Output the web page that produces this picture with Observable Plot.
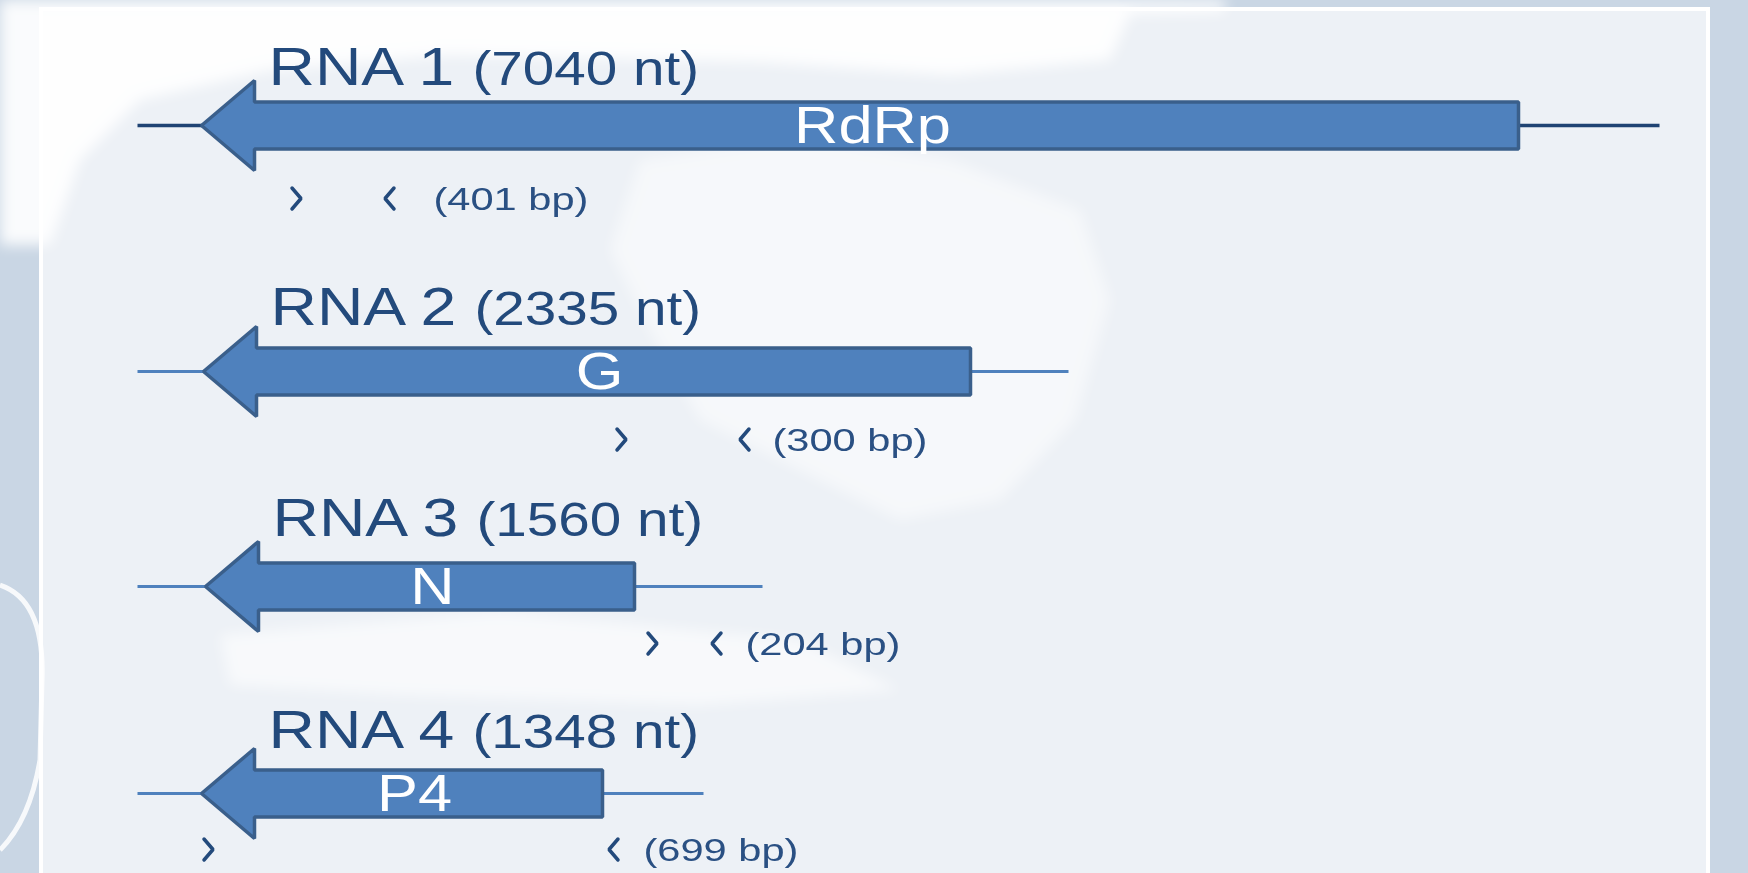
<!DOCTYPE html>
<html><head><meta charset="utf-8">
<script src="https://cdn.jsdelivr.net/npm/d3@7"></script>
<script src="https://cdn.jsdelivr.net/npm/@observablehq/plot@0.6"></script>
<style>
html,body{margin:0;padding:0;background:#c9d6e4;}
#wrap{position:relative;width:1748px;height:873px;overflow:hidden;}
#bg,#chart{position:absolute;left:0;top:0;}
</style></head><body>
<div id="wrap">
<svg id="bg" width="1748" height="873">
  <defs>
    <filter id="soft" x="-20%" y="-20%" width="140%" height="140%"><feGaussianBlur stdDeviation="7"/></filter>
  </defs>
  <rect x="0" y="0" width="1748" height="873" fill="#c9d6e4"/>
  <rect x="41" y="9" width="1667" height="880" fill="#edf1f6" stroke="#ffffff" stroke-width="4"/>
  <g fill="#ffffff" filter="url(#soft)">
    <path d="M0,0 L1225,0 L1225,12 L1130,14 L1110,60 L950,75 L760,62 L450,55 L270,70 L140,100 L80,160 L50,245 L0,245 Z" opacity="0.9"/>
    <path d="M640,160 L800,135 L950,160 L1080,210 L1110,300 L1075,420 L1000,500 L900,520 L800,470 L700,420 L650,330 L610,250 Z" opacity="0.5"/>
    <path d="M220,635 L500,612 L800,640 L900,690 L700,705 L400,695 L230,685 Z" opacity="0.6"/>
  </g>
  <path d="M0,585 Q45,600 42,680 L40,760 Q30,820 0,850" fill="none" stroke="#ffffff" stroke-width="5" opacity="0.85"/>
</svg>
<div id="chart"></div>
</div>
<script>
// Segments of the genome
const segments = ["RNA 1", "RNA 2", "RNA 3", "RNA 4"];
const lengthsNt = [7040, 2335, 1560, 1348];
const proteins = ["RdRp", "G", "N", "P4"];
const ampliconBp = [401, 300, 204, 699];

// Schematic map units (the drawing is not to scale)
const rowPos = [125, 371, 586, 793];
const labelRow = [84, 324, 535, 747];
const rnaStart = [137, 137, 137, 137];
const rnaEnd = [1659, 1068, 762, 703];
const orfTip = [201, 203, 205, 201];
const orfEnd = [1518, 970, 634, 602];
const primerRow = [198, 439, 643, 849];
const primerFwd = [296, 621, 652, 208];
const primerRev = [389, 744, 716, 613];
const ampliconLabel = [433, 772, 745, 643];

const rows = segments.map((s, i) => ({
  i, segment: s, nt: lengthsNt[i], protein: proteins[i], bp: ampliconBp[i],
  y: rowPos[i], ly: labelRow[i], start: rnaStart[i], end: rnaEnd[i], tip: orfTip[i], orfEnd: orfEnd[i],
  py: primerRow[i], fwd: primerFwd[i], rev: primerRev[i], ampX: ampliconLabel[i]
}));

const HEAD = 53, HEAD_H = 45, BODY_H = 23.5;
const poly = rows.flatMap(r => [
  [r.tip, r.y], [r.tip + HEAD, r.y - HEAD_H], [r.tip + HEAD, r.y - BODY_H],
  [r.orfEnd, r.y - BODY_H], [r.orfEnd, r.y + BODY_H], [r.tip + HEAD, r.y + BODY_H],
  [r.tip + HEAD, r.y + HEAD_H]
].map(([x, y]) => ({gene: r.protein, x, y})));

// primer chevrons (forward ›, reverse ‹)
const CW = 4.5, CH = 10.5;
const chevrons = rows.flatMap(r => [
  ...[[-CW, -CH], [CW, 0], [-CW, CH]].map(([dx, dy]) => ({k: r.segment + "f", x: r.fwd + dx, y: r.py + dy})),
  ...[[CW, -CH], [-CW, 0], [CW, CH]].map(([dx, dy]) => ({k: r.segment + "r", x: r.rev + dx, y: r.py + dy}))
]);

const navy = "#234a7c";
const chart = Plot.plot({
  width: 1748, height: 873, margin: 0,
  x: {domain: [0, 1748], range: [0, 1748], axis: null},
  y: {domain: [0, 873], range: [0, 873], axis: null},
  style: {background: "transparent", fontFamily: "'Liberation Sans', Arial, sans-serif"},
  marks: [
    Plot.link(rows.slice(0, 1), {x1: "start", x2: "end", y1: "y", y2: "y", stroke: "#1f4373", strokeWidth: 3.5}),
    Plot.link(rows.slice(1), {x1: "start", x2: "end", y1: "y", y2: "y", stroke: "#4f81bd", strokeWidth: 3}),
    Plot.line(poly, {x: "x", y: "y", z: "gene", curve: "linear-closed", fill: "#4f81bd",
      stroke: "#3a5f8b", strokeWidth: 3.5, strokeLinejoin: "miter"}),
    Plot.text(rows, {x: d => (d.tip + HEAD + d.orfEnd) / 2, y: "y", text: "protein", fill: "white",
      fontSize: 52, dx: -14, dy: 1, ariaDescription: "sx1.18"}),
    Plot.text(rows, {x: "tip", y: "ly", text: "segment", textAnchor: "start", dx: 67, dy: -17,
      fontSize: 54, fill: navy, ariaDescription: "sx1.19"}),
    Plot.text(rows, {x: "tip", y: "ly", text: d => `(${d.nt} nt)`, textAnchor: "start", dx: 271, dy: -15,
      fontSize: 48, fill: navy, ariaDescription: "sx1.18"}),
    Plot.line(chevrons, {x: "x", y: "y", z: "k", stroke: navy, strokeWidth: 3.5, strokeLinejoin: "miter"}),
    Plot.text(rows, {x: "ampX", y: "py", text: d => `(${d.bp} bp)`, textAnchor: "start", fontSize: 32,
      dy: 1, fill: "#2a5083", ariaDescription: "sx1.3"})
  ]
});

chart.querySelectorAll("g[aria-description]").forEach(g => {
  const m = /^sx([\d.]+)$/.exec(g.getAttribute("aria-description"));
  if (!m) return;
  const s = m[1];
  g.querySelectorAll("text").forEach(t => {
    let tr = t.getAttribute("transform");
    if (!tr) {
      const x = t.getAttribute("x") || 0, y = t.getAttribute("y") || 0;
      t.removeAttribute("x"); t.removeAttribute("y");
      tr = `translate(${x},${y})`;
    }
    t.setAttribute("transform", `${tr} scale(${s},1)`);
  });
});
document.getElementById("chart").appendChild(chart);
</script>
</body></html>
